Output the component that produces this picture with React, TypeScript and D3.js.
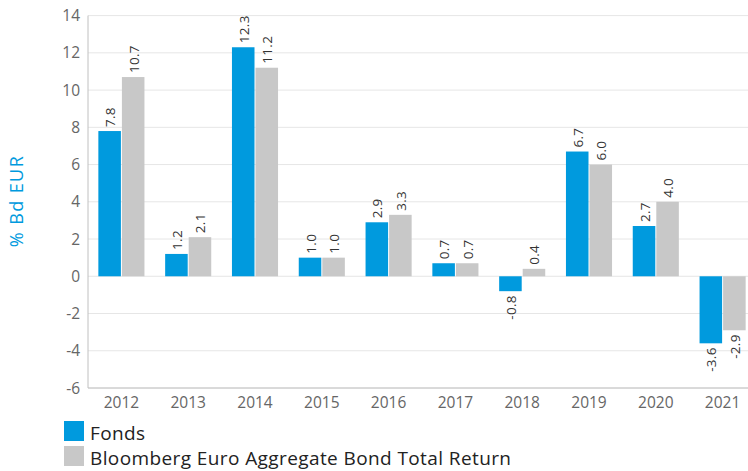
import React from "react";
import * as d3 from "d3";

const years = ["2012","2013","2014","2015","2016","2017","2018","2019","2020","2021"];
const fonds = [7.8, 1.2, 12.3, 1.0, 2.9, 0.7, -0.8, 6.7, 2.7, -3.6];
const bench = [10.7, 2.1, 11.2, 1.0, 3.3, 0.7, 0.4, 6.0, 4.0, -2.9];
const yTicks = [-6, -4, -2, 0, 2, 4, 6, 8, 10, 12, 14];
const seriesNames = ["Fonds", "Bloomberg Euro Aggregate Bond Total Return"];
const colors = ["#009ADE", "#C8C8C8"];

const W = 748, H = 471;
const left = 88, right = 756, top = 15.6, bottom = 388;
const font = "'Open Sans', sans-serif";

export default function App() {
  const x = d3.scaleBand<string>().domain(years).range([left, right]).paddingInner(0.31).paddingOuter(0.155);
  const y = d3.scaleLinear().domain([-6, 14]).range([bottom, top]);
  const bw = (x.bandwidth() - 1) / 2;
  const series = [fonds, bench];
  return (
    <svg width={W} height={H} style={{ position: "absolute", left: 0, top: 0 }} fontFamily={font}>
      {yTicks.map((t) => (
        <g key={t}>
          <line x1={left} x2={W} y1={y(t)} y2={y(t)} stroke="#e6e6e6" strokeWidth={1} />
          <text x={left - 8} y={y(t)} dy="0.36em" textAnchor="end" fontSize={15.5} fill="#666">{t}</text>
        </g>
      ))}
      <line x1={left} x2={left} y1={top} y2={bottom} stroke="#c0c0c0" strokeWidth={1} />
      <line x1={left} x2={W} y1={bottom} y2={bottom} stroke="#c0c0c0" strokeWidth={1} />
      {years.map((yr, i) => (
        <g key={yr}>
          {series.map((s, k) => {
            const v = s[i];
            const bx = (x(yr) as number) + k * (bw + 1);
            const y0 = y(Math.max(0, v)), y1 = y(Math.min(0, v));
            const cx = bx + bw / 2;
            const ly = v >= 0 ? y0 - 4 : y1 + 4;
            return (
              <g key={k}>
                <rect x={bx} y={y0} width={bw} height={Math.max(0, y1 - y0)} fill={colors[k]} />
                <text transform={`translate(${cx + 5.5},${ly}) rotate(-90)`} textAnchor={v >= 0 ? "start" : "end"} fontSize={13.5} letterSpacing={0.3} fill="#333">{v.toFixed(1)}</text>
              </g>
            );
          })}
          <text x={(x(yr) as number) + x.bandwidth() / 2} y={bottom + 20} textAnchor="middle" fontSize={15.5} fill="#666">{yr}</text>
        </g>
      ))}
      <text transform={`translate(23,201) rotate(-90)`} textAnchor="middle" fontSize={18} letterSpacing={1.4} fill="#009ADE">% Bd EUR</text>
      {seriesNames.map((n, k) => (
        <g key={n}>
          <rect x={64} y={421 + k * 25} width={20} height={20} fill={colors[k]} />
          <text x={90} y={440 + k * 25} fontSize={19} letterSpacing={0.4} fill="#222">{n}</text>
        </g>
      ))}
    </svg>
  );
}
